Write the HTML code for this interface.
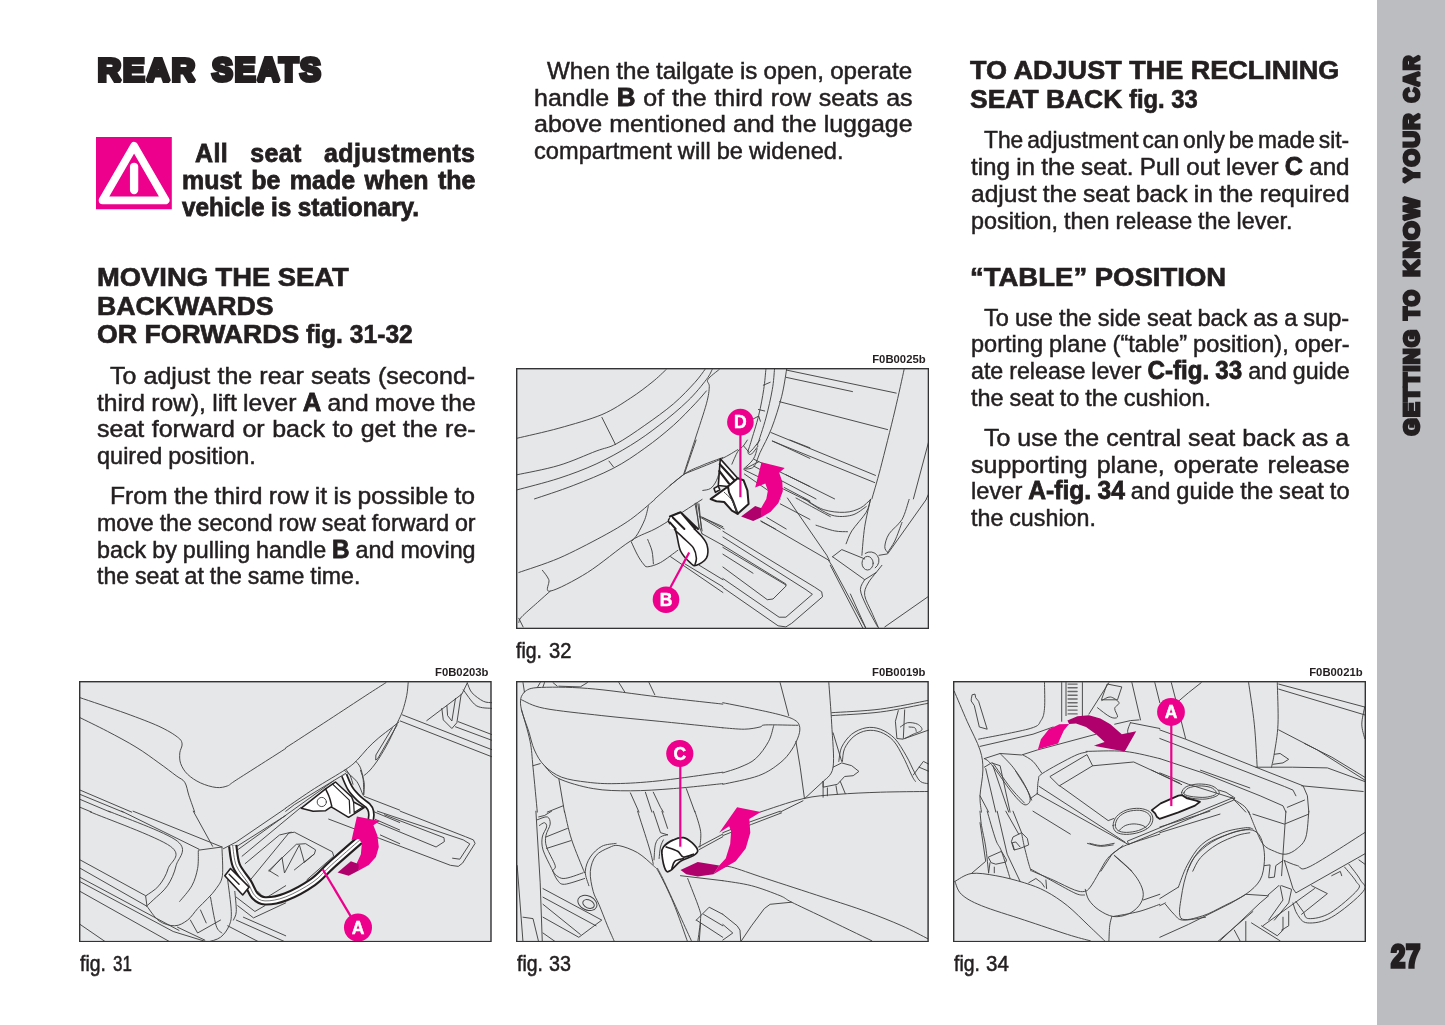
<!DOCTYPE html>
<html><head><meta charset="utf-8"><title>Rear seats</title>
<style>
html,body{margin:0;padding:0;background:#fff;}
body{width:1445px;height:1025px;position:relative;overflow:hidden;font-family:"Liberation Sans",sans-serif;color:#231f20;}
.t{position:absolute;white-space:nowrap;line-height:30px;height:30px;transform-origin:0 0;}
.r{font-size:24.5px;-webkit-text-stroke:0.5px #231f20;}
.r b{font-size:25.5px;line-height:0;-webkit-text-stroke:0.8px #231f20;}
.b{font-size:26.0px;font-weight:bold;-webkit-text-stroke:0.8px #231f20;}
.h{font-size:25.7px;font-weight:bold;-webkit-text-stroke:0.65px #231f20;}
.fig{position:absolute;display:block;}
.code{position:absolute;width:120px;text-align:right;font-size:11.3px;font-weight:bold;line-height:30px;height:30px;white-space:nowrap;}
.cap{position:absolute;font-size:24px;line-height:30px;height:30px;white-space:nowrap;transform:scaleX(0.83);transform-origin:0 0;-webkit-text-stroke:0.4px #231f20;}
.side{position:absolute;left:1377px;top:0;width:68px;height:1025px;background:#bbbdc1;}
.abs{position:absolute;}
#pg{position:absolute;left:0;top:0;width:1445px;height:1025px;will-change:transform;}
</style></head><body>
<div class="side"></div>
<div id="pg">
<svg class="abs" style="left:0;top:0" width="400" height="120" viewBox="0 0 400 120"><g transform="translate(97.80,81.00) scale(1.0113,1.0000)"><text x="0" y="0" font-family="Liberation Sans, sans-serif" font-weight="bold" font-size="32.0" letter-spacing="1.9" fill="#231f20" stroke="#231f20" stroke-width="4.0" stroke-linejoin="miter" stroke-miterlimit="1.6">REAR</text></g><g transform="translate(212.07,81.34) scale(0.9711,1.0308)"><text x="0" y="0" font-family="Liberation Sans, sans-serif" font-weight="bold" font-size="32.0" letter-spacing="1.9" fill="#231f20" stroke="#231f20" stroke-width="4.0" stroke-linejoin="miter" stroke-miterlimit="1.6">SEATS</text></g></svg>
<svg class="abs" style="left:96.1px;top:137.3px" width="75.8" height="72.3" viewBox="0 0 75.8 72.3">
<rect width="75.8" height="72.3" fill="#ec008c"/>
<path d="M38.1 8.9 L69.6 63.3 L6.6 63.3 Z" fill="none" stroke="#fff" stroke-width="7.8" stroke-linejoin="round"/>
<line x1="38.1" y1="29.8" x2="38.1" y2="53" stroke="#fff" stroke-width="8.3" stroke-linecap="round"/>
</svg>

<div class="t b" style="left:195.4px;top:138.39px;transform:scaleX(0.9600);word-spacing:15.52px;letter-spacing:0.408px;">All seat adjustments</div>
<div class="t b" style="left:182.0px;top:165.19px;transform:scaleX(0.9600);word-spacing:2.72px;">must be made when the</div>
<div class="t b" style="left:182.0px;top:191.99px;transform:scaleX(0.9362);word-spacing:-0.30px;">vehicle is stationary.</div>
<div class="t h" style="left:96.5px;top:261.89px;transform:scaleX(1.0650);">MOVING THE SEAT</div>
<div class="t h" style="left:96.5px;top:290.69px;transform:scaleX(1.0399);">BACKWARDS</div>
<div class="t h" style="left:96.5px;top:319.49px;transform:scaleX(1.0377);">OR FORWARDS</div>
<div class="t h" style="left:306.3px;top:319.49px;transform:scaleX(0.9591);">fig. 31-32</div>
<div class="t r" style="left:110.3px;top:360.81px;transform:scaleX(1.0200);word-spacing:0.23px;">To adjust the rear seats (second-</div>
<div class="t r" style="left:96.8px;top:387.61px;transform:scaleX(1.0057);word-spacing:-0.60px;">third row), lift lever <b>A</b> and move the</div>
<div class="t r" style="left:96.8px;top:414.41px;transform:scaleX(1.0200);word-spacing:0.50px;">seat forward or back to get the re-</div>
<div class="t r" style="left:96.8px;top:441.21px;transform:scaleX(0.9591);word-spacing:-0.60px;">quired position.</div>
<div class="t r" style="left:110.3px;top:481.01px;transform:scaleX(1.0083);word-spacing:-0.60px;">From the third row it is possible to</div>
<div class="t r" style="left:96.8px;top:507.81px;transform:scaleX(0.9477);word-spacing:-0.60px;">move the second row seat forward or</div>
<div class="t r" style="left:96.8px;top:534.61px;transform:scaleX(0.9523);word-spacing:-0.60px;">back by pulling handle <b>B</b> and moving</div>
<div class="t r" style="left:96.8px;top:561.41px;transform:scaleX(0.9444);word-spacing:-0.60px;">the seat at the same time.</div>
<div class="t r" style="left:547.1px;top:55.81px;transform:scaleX(0.9862);word-spacing:-0.60px;">When the tailgate is open, operate</div>
<div class="t r" style="left:533.6px;top:82.61px;transform:scaleX(1.0200);word-spacing:0.78px;">handle <b>B</b> of the third row seats as</div>
<div class="t r" style="left:533.6px;top:109.41px;transform:scaleX(1.0200);word-spacing:0.16px;">above mentioned and the luggage</div>
<div class="t r" style="left:533.6px;top:136.21px;transform:scaleX(0.9643);word-spacing:-0.60px;">compartment will be widened.</div>
<div class="t h" style="left:970.0px;top:55.29px;transform:scaleX(1.0521);">TO ADJUST THE RECLINING</div>
<div class="t h" style="left:970.0px;top:84.39px;transform:scaleX(1.0294);">SEAT BACK</div>
<div class="t h" style="left:1129.4px;top:84.39px;transform:scaleX(0.9268);">fig. 33</div>
<div class="t r" style="left:984.0px;top:125.31px;transform:scaleX(0.9300);word-spacing:-2.60px;letter-spacing:-0.010px;">The adjustment can only be made sit-</div>
<div class="t r" style="left:970.5px;top:152.11px;transform:scaleX(0.9892);word-spacing:-0.60px;">ting in the seat. Pull out lever <b>C</b> and</div>
<div class="t r" style="left:970.5px;top:178.91px;transform:scaleX(1.0022);word-spacing:-0.60px;">adjust the seat back in the required</div>
<div class="t r" style="left:970.5px;top:205.71px;transform:scaleX(0.9544);word-spacing:-0.60px;">position, then release the lever.</div>
<div class="t h" style="left:970.0px;top:261.99px;transform:scaleX(1.0707);">“TABLE” POSITION</div>
<div class="t r" style="left:984.0px;top:302.51px;transform:scaleX(0.9627);word-spacing:-0.60px;">To use the side seat back as a sup-</div>
<div class="t r" style="left:970.5px;top:329.31px;transform:scaleX(0.9612);word-spacing:-0.60px;">porting plane (“table” position), oper-</div>
<div class="t r" style="left:970.5px;top:356.11px;transform:scaleX(0.9480);word-spacing:-0.60px;">ate release lever <b>C-fig. 33</b> and guide</div>
<div class="t r" style="left:970.5px;top:382.91px;transform:scaleX(0.9568);word-spacing:-0.60px;">the seat to the cushion.</div>
<div class="t r" style="left:984.0px;top:422.81px;transform:scaleX(1.0200);word-spacing:-0.04px;">To use the central seat back as a</div>
<div class="t r" style="left:970.5px;top:449.61px;transform:scaleX(1.0200);word-spacing:2.04px;">supporting plane, operate release</div>
<div class="t r" style="left:970.5px;top:476.41px;transform:scaleX(0.9658);word-spacing:-0.60px;">lever <b>A-fig. 34</b> and guide the seat to</div>
<div class="t r" style="left:970.5px;top:503.21px;transform:scaleX(0.9496);word-spacing:-0.60px;">the cushion.</div>
<svg class="fig" style="left:79.3px;top:680.8px" width="412.7" height="261.3" viewBox="0 0 412.7 261.3"><rect x="0" y="0" width="412.7" height="261.3" fill="#e6e7e8"/><g fill="none" stroke="#434345" stroke-width="0.95" stroke-linecap="round" stroke-linejoin="round"><path d="M1.1 16.7 C8.8 19.3 33.8 27.7 47.0 32.4 C60.1 37.2 71.3 41.4 79.9 45.3 C88.5 49.3 94.7 53.1 98.5 56.1 C102.4 59.0 102.7 60.3 103.1 62.9 C103.5 65.6 101.1 68.6 100.8 71.8 C100.6 75.1 100.4 79.0 101.7 82.6 C103.0 86.2 105.3 90.1 108.6 93.3 C111.9 96.5 116.7 99.7 121.5 101.9 C126.2 104.1 132.7 106.0 137.2 106.5 C141.8 107.0 145.3 106.0 148.7 104.8 C152.0 103.5 147.6 105.3 157.3 99.0 C166.9 92.8 198.5 72.8 206.7 67.5"/>
<path d="M1.1 36.7 C5.7 39.0 19.0 45.4 28.4 50.3 C37.7 55.2 48.4 60.8 57.0 66.1 C65.6 71.3 73.2 77.1 79.9 81.9 C86.6 86.6 92.8 91.5 97.1 94.7 C101.4 98.0 103.6 97.9 105.7 101.2 C107.9 104.5 108.3 109.8 110.0 114.8 C111.7 119.8 114.8 128.4 115.7 131.1"/>
<path d="M1.1 109.1 L52.7 131.1 M1.1 113.4 L44.1 131.1 M1.1 118.4 L31.2 131.1 M1.1 126.3 L12.6 131.1"/>
<path d="M206.7 66.8 C213.9 62.2 236.3 47.6 249.7 38.9 C263.0 30.2 277.4 20.7 286.9 14.5 C296.5 8.3 303.6 3.8 307.0 1.6"/>
<path d="M329.2 1.6 C328.9 3.8 328.7 9.8 327.7 14.5 C326.8 19.3 325.0 25.7 323.5 30.3 C321.9 34.8 320.7 36.7 318.4 41.7 C316.2 46.8 312.9 54.4 309.8 60.4 C306.7 66.3 302.9 72.8 299.8 77.6 C296.7 82.3 293.7 86.2 291.2 89.0 C288.7 91.9 285.8 93.8 284.8 94.7"/>
<path d="M206.7 127.0 C211.5 123.8 225.3 114.1 235.4 107.6 C245.4 101.2 259.7 93.1 266.9 88.3 C274.0 83.5 274.7 82.5 278.3 79.0 C281.9 75.5 284.8 71.2 288.4 67.5 C291.9 63.8 295.8 60.2 299.8 56.8 C303.9 53.3 309.4 49.4 312.7 46.8 C316.0 44.1 318.7 42.0 319.9 41.0"/>
<path d="M206.7 130.3 L215.3 123.7 L266.9 92.2"/>
<path d="M313.4 46.8 L296.9 74.0 L296.7 79.0 L298.7 77.6 L318.2 43.9"/>
<path d="M276.9 80.4 C277.6 81.4 280.0 83.3 281.2 86.2 C282.4 89.0 283.5 93.1 284.1 97.6 C284.7 102.1 284.7 110.7 284.8 113.4"/>
<path d="M266.9 88.3 C267.6 89.4 270.0 92.2 271.2 94.7 C272.4 97.3 273.6 101.9 274.0 103.3"/>
<path d="M323.5 33.9 L413.7 69.0 M321.3 40.0 L413.7 76.1 M379.3 40.7 L413.7 53.9 M376.5 45.8 L413.7 59.6"/>
<path d="M347.8 39.6 L382.9 13.1 L388.3 1.9"/>
<path d="M362.8 27.4 L364.3 38.9 L372.9 47.5 L377.9 41.7 L382.2 13.1"/>
<path d="M367.9 24.6 L368.6 34.6 L372.9 40.0 L376.5 17.4"/>
<path d="M388.3 1.9 C389.1 3.5 390.3 8.6 392.9 11.7 C395.6 14.7 401.0 18.6 404.4 20.3 C407.7 21.9 411.6 21.4 413.0 21.7"/>
<path d="M384.3 8.8 C386.5 11.4 392.5 21.4 397.2 24.6 C402.0 27.7 410.4 26.9 413.0 27.4"/>
<path d="M11.2 130.9 C24.5 136.6 78.4 155.9 91.4 165.3 C104.4 174.7 91.1 180.9 89.2 187.5 C87.3 194.1 83.6 200.2 79.9 204.7 C76.2 209.2 69.2 213.0 67.0 214.7"/>
<path d="M29.8 130.2 C41.2 135.2 87.3 151.2 98.5 160.3 C109.8 169.4 98.8 177.2 97.1 184.6 C95.4 192.0 92.3 199.0 88.5 204.7 C84.7 210.4 77.7 215.6 74.2 219.0 C70.7 222.4 68.8 224.0 67.7 225.0"/>
<path d="M1.1 178.9 L66.6 214.7 L68.0 225.3 L1.1 187.2 M42.7 130.2 L120.0 168.2 M54.1 130.2 L143.0 166.0 M1.1 196.4 L100.0 249.4 M1.1 200.7 L94.2 250.5 L128.6 261.1 M1.1 210.4 L91.4 261.1 M1.1 243.4 L26.9 261.1"/>
<path d="M119.3 169.2 L143.0 166.0"/>
<path d="M119.3 170.3 C119.2 173.2 119.7 181.8 118.6 187.5 C117.5 193.2 115.9 199.2 112.9 204.7 C109.9 210.2 102.7 217.8 100.7 220.4"/>
<path d="M143.0 166.7 C143.0 171.4 144.3 187.9 143.4 194.7 C142.4 201.5 139.7 203.7 137.2 207.6 C134.8 211.4 131.7 214.2 128.6 217.6 C125.5 220.9 121.9 224.0 118.6 227.6 C115.3 231.2 112.4 236.2 108.6 239.1 C104.8 241.9 100.5 244.7 95.7 244.8 C90.9 244.9 84.5 243.0 79.9 239.8 C75.3 236.5 70.0 227.7 68.0 225.3"/>
<path d="M114.3 130.2 L133.6 165.3"/>
<path d="M131.5 216.2 C132.4 220.9 135.3 238.8 137.2 244.8 C139.1 250.8 142.0 250.8 143.0 252.0"/>
<path d="M148.7 199.0 C149.3 204.2 152.0 222.8 152.3 230.5 C152.5 238.1 151.9 240.5 150.1 244.8 C148.3 249.1 145.1 253.5 141.5 256.3 C137.9 259.0 130.8 260.3 128.6 261.1"/>
<path d="M155.8 210.4 C156.1 213.8 157.5 225.7 157.3 230.5 C157.0 235.3 154.9 237.6 154.4 239.1"/>
<path d="M111.4 239.1 L118.6 252.0 L141.5 239.1 M121.5 229.0 L127.2 241.9 M98.5 246.2 L125.8 259.1"/>
<path d="M148.7 244.8 L180.2 261.1 M157.3 239.1 L206.7 261.1 M164.4 236.2 L206.7 254.8"/>
<path d="M144.4 167.7 L157.3 161.0 L206.7 127.3 M158.0 165.3 L206.7 134.5"/>
<path d="M178.8 210.4 L185.9 217.6 L206.7 204.7 M157.3 216.2 L175.9 230.5 L185.9 224.7 M158.7 224.7 L174.5 236.9 L206.7 221.9"/>
<path d="M159.4 168.3 L254.7 99.8 M163.1 175.2 L221.7 126.6 M166.2 182.6 L200.5 154.0 L212.3 151.2"/>
<path d="M169.4 201.3 L209.8 152.1 L215.4 151.2 L253.4 170.8 L254.7 175.2 L227.9 198.8"/>
<path d="M189.9 189.5 L217.3 163.3 L226.7 162.7 L236.6 168.9 L235.4 172.9 L215.4 188.9"/>
<path d="M190.5 190.1 L203.0 176.4 L205.5 192.0 L220.4 163.9 L225.4 181.4 L235.4 172.9 M189.9 189.5 L199.2 195.1"/>
<path d="M285.2 115.4 L320.7 129.1 M293.9 130.3 L320.7 141.5 M296.4 138.4 L320.7 149.0 M301.4 154.0 L320.7 162.7"/>
<path d="M265.3 89.2 C267.3 91.1 274.6 96.3 277.7 100.4 C280.8 104.6 282.9 111.8 284.0 114.1"/>
<path d="M281.5 89.2 C282.1 91.3 284.7 97.5 285.2 101.7 C285.7 105.8 284.7 112.0 284.6 114.1"/>
<path d="M222.3 127.2 L234.1 130.3 L246.6 129.7 L252.2 125.9 L269.6 136.3 L285.2 126.6 L274.6 121.0 L272.7 116.0 L256.5 101.0 L246.6 107.9 Z" fill="#fff" stroke="#231f20" stroke-width="1.5"/>
<path d="M246.6 107.9 C247.2 109.2 249.3 113.1 250.3 116.0 C251.4 118.9 252.4 123.8 252.8 125.3" stroke="#231f20" stroke-width="1.5"/>
<path d="M253.4 102.9 L270.3 119.1 L270.9 132.2" stroke="#231f20" stroke-width="1.2"/>
<path d="M274.6 121.0 L275.2 131.6 L284.0 125.9" stroke="#231f20" stroke-width="1.2"/>
<circle cx="242.8" cy="121.0" r="4.6" fill="#fff" stroke="#3a3a3c" stroke-width="0.9"/>
<path d="M321.3 130.2 L386.5 155.7 L394.4 158.9 L396.1 162.4 L383.6 182.1 L379.3 185.4 L371.4 184.3 L300.5 157.4 L249.7 138.1"/>
<path d="M298.4 130.2 L384.3 158.9 L390.8 162.9 L380.8 178.2 L373.6 177.2"/>
<path d="M305.5 133.8 L365.0 156.7 L365.4 160.6 L357.1 166.0 L298.4 141.7"/>
<path d="M153.7 164.6 C154.3 167.9 154.8 178.4 157.3 184.6 C159.8 190.8 165.7 196.8 168.8 201.8 C171.9 206.8 173.0 211.7 175.9 214.7 C178.8 217.7 180.9 219.7 186.0 219.9 C191.1 220.1 198.7 219.0 206.7 215.9 C214.7 212.8 226.3 206.4 233.9 201.1 C241.5 195.8 244.7 190.9 252.5 183.9 C260.3 176.9 275.8 163.4 280.5 159.3" stroke="#231f20" stroke-width="9.4" stroke-linecap="butt"/><path d="M280.5 159.3 C281.9 157.6 287.0 152.6 288.9 149.0 C290.8 145.4 291.5 140.9 292.0 137.8 C292.5 134.7 292.5 132.5 292.0 130.3 C291.5 128.1 290.9 126.8 288.9 124.7 C286.9 122.6 283.1 120.6 280.2 117.8 C277.3 115.0 274.0 111.8 271.5 107.9 C269.0 104.0 266.2 96.5 265.2 94.2" stroke="#231f20" stroke-width="6.8" stroke-linecap="butt"/>
<path d="M153.7 164.6 C154.3 167.9 154.8 178.4 157.3 184.6 C159.8 190.8 165.7 196.8 168.8 201.8 C171.9 206.8 173.0 211.7 175.9 214.7 C178.8 217.7 180.9 219.7 186.0 219.9 C191.1 220.1 198.7 219.0 206.7 215.9 C214.7 212.8 226.3 206.4 233.9 201.1 C241.5 195.8 244.7 190.9 252.5 183.9 C260.3 176.9 275.8 163.4 280.5 159.3" stroke="#fff" stroke-width="5.2" stroke-linecap="butt"/><path d="M280.5 159.3 C281.9 157.6 287.0 152.6 288.9 149.0 C290.8 145.4 291.5 140.9 292.0 137.8 C292.5 134.7 292.5 132.5 292.0 130.3 C291.5 128.1 290.9 126.8 288.9 124.7 C286.9 122.6 283.1 120.6 280.2 117.8 C277.3 115.0 274.0 111.8 271.5 107.9 C269.0 104.0 266.2 96.5 265.2 94.2" stroke="#fff" stroke-width="3.4" stroke-linecap="butt"/>
<path d="M153.7 164.6 C154.3 167.9 154.8 178.4 157.3 184.6 C159.8 190.8 165.7 196.8 168.8 201.8 C171.9 206.8 173.0 211.7 175.9 214.7 C178.8 217.7 180.9 219.7 186.0 219.9 C191.1 220.1 198.7 219.0 206.7 215.9 C214.7 212.8 226.3 206.4 233.9 201.1 C241.5 195.8 244.7 190.9 252.5 183.9 C260.3 176.9 275.8 163.4 280.5 159.3" stroke="#3a3a3c" stroke-width="0.7"/>
<path d="M145.8 194.7 L151.5 187.5 L170.2 206.1 L163.7 214.0 Z" fill="#fff" stroke="#231f20" stroke-width="1.6"/>
<path d="M150.1 193.2 L160.1 203.3" stroke="#231f20" stroke-width="1.4"/>
<path d="M277.9 135.6 L300.8 139.9 L294.4 144.2 L298.4 154.6 L299.8 166.0 L296.9 176.0 L289.8 183.9 L279.8 189.6 L277.6 182.5 L281.9 173.2 L282.9 161.7 L280.0 158.1 L272.6 158.9 Z" fill="#ec008c" stroke="none"/>
<path d="M258.6 191.5 L271.9 180.3 L279.5 182.9 L279.8 189.6 L269.7 194.7 Z" fill="#b0006c" stroke="none"/>
<line x1="243.7" y1="188.2" x2="274.0" y2="239.1" stroke="#ec008c" stroke-width="2.2" stroke-linecap="butt"/>
<circle cx="279.0" cy="246.5" r="14.0" fill="#ec008c" stroke="none"/><text x="279.0" y="252.7" text-anchor="middle" font-family="Liberation Sans, sans-serif" font-weight="bold" font-size="17.5" fill="#fff" stroke="#fff" stroke-width="0.5">A</text></g><rect x="0.7" y="0.7" width="411.3" height="259.9" fill="none" stroke="#333335" stroke-width="1.4"/></svg>
<div class="code" style="left:368.4px;top:656.88px">F0B0203b</div>
<svg class="fig" style="left:516.1px;top:368.0px" width="413.1" height="261.1" viewBox="0 0 413.1 261.1"><rect x="0" y="0" width="413.1" height="261.1" fill="#e6e7e8"/><g fill="none" stroke="#434345" stroke-width="0.95" stroke-linecap="round" stroke-linejoin="round"><path d="M1.3 70.2 C8.3 68.5 28.8 64.1 42.9 60.2 C57.0 56.2 73.9 51.6 85.9 46.6 C97.8 41.5 106.1 35.5 114.5 30.1 C122.9 24.7 130.0 19.1 136.0 14.3 C142.0 9.6 147.9 3.6 150.3 1.4"/>
<path d="M1.3 106.7 C8.3 105.2 29.7 101.4 42.9 97.4 C56.0 93.5 70.6 86.7 80.1 83.1 C89.7 79.5 92.1 80.2 100.2 75.9 C108.3 71.6 119.3 64.0 128.8 57.3 C138.4 50.6 149.1 43.0 157.5 35.8 C165.8 28.7 173.7 20.1 179.0 14.3 C184.2 8.6 187.3 3.6 189.0 1.4"/>
<path d="M1.3 121.8 C8.3 119.9 29.7 114.6 42.9 110.3 C56.0 106.0 68.2 101.5 80.1 96.0 C92.1 90.5 104.0 83.8 114.5 77.4 C125.0 70.9 133.6 64.7 143.2 57.3 C152.7 49.9 163.9 40.6 171.8 32.9 C179.7 25.3 186.4 16.7 190.4 11.5 C194.5 6.2 195.2 3.1 196.2 1.4"/>
<path d="M18.5 130.9 C25.0 128.7 44.1 122.6 57.2 117.5 C70.3 112.4 85.4 106.5 97.3 100.3 C109.2 94.1 118.8 87.4 128.8 80.2 C138.9 73.1 149.1 64.7 157.5 57.3 C165.8 49.9 173.5 41.5 179.0 35.8 C184.5 30.1 188.5 25.1 190.4 22.9"/>
<path d="M85.9 49.4 L99.5 76.6 M93.0 93.1 L97.6 99.1"/>
<path d="M203.3 1.4 C201.4 3.1 193.5 8.6 191.9 11.5 C190.2 14.3 193.5 14.6 193.3 18.6 C193.1 22.7 192.8 27.0 190.4 35.8 C188.0 44.6 182.8 59.8 179.0 71.6 C175.1 83.4 169.4 100.9 167.5 106.7"/>
<path d="M138.9 130.9 C143.6 126.9 159.6 112.3 167.5 106.7 C175.4 101.1 179.6 100.3 186.1 97.4 C192.7 94.5 203.4 90.8 206.9 89.5"/>
<path d="M249.9 1.4 C249.5 4.8 248.9 13.8 247.7 21.5 C246.5 29.1 244.9 38.4 242.7 47.3 C240.6 56.1 236.6 68.3 234.8 74.5 C233.0 80.7 231.8 82.6 232.0 84.5 C232.1 86.4 233.9 87.0 235.6 86.0 C237.2 84.9 240.9 79.4 242.0 78.1"/>
<path d="M258.5 1.4 C258.1 4.8 257.8 13.4 256.3 21.5 C254.9 29.6 252.4 40.8 249.9 50.1 C247.4 59.4 242.7 72.8 241.3 77.4"/>
<path d="M270.6 1.4 C269.8 6.0 268.1 18.9 265.6 28.7 C263.1 38.4 259.2 50.9 255.6 60.2 C252.0 69.5 247.1 78.1 244.1 84.5 C241.2 91.0 240.3 96.1 237.7 98.8 C235.1 101.6 229.9 100.6 228.4 101.0"/>
<path d="M247.3 17.2 L254.2 14.3 M242.4 41.5 L248.7 43.0 M237.3 50.9 L242.7 48.0 L244.4 53.3"/>
<path d="M270.6 2.1 L380.2 25.1 M269.9 9.3 L336.5 23.6 M263.5 33.7 L371.6 61.6 M254.9 64.5 L359.5 107.4 M256.3 73.1 L358.7 114.6"/>
<path d="M388.1 1.4 C386.6 8.4 382.7 26.5 378.8 43.0 C374.9 59.4 368.3 85.6 364.5 100.3 C360.7 114.9 357.3 125.8 355.9 130.9"/>
<path d="M413.2 71.6 L397.4 130.9 M413.9 123.2 L410.3 130.9"/>
<path d="M229.8 100.3 L242.7 93.8 M237.7 98.1 L300.0 130.9 M228.4 106.0 L264.2 130.9 M269.9 106.7 L318.6 130.9"/>
<path d="M206.9 163.2 L298.6 219.1 L305.7 223.8 L306.5 228.8 L275.7 255.3 L269.9 258.9 L262.1 257.8 L206.9 219.5"/>
<path d="M206.9 169.0 L290.0 221.7 L296.4 226.3 L269.9 249.2 L263.1 249.2 L206.9 210.5"/>
<path d="M206.9 177.3 L269.9 216.0 L269.9 218.2 L257.0 231.0 L251.3 231.7 L206.9 199.0"/>
<path d="M206.9 179.4 L269.9 217.0 M206.9 186.2 L237.0 205.2"/>
<path d="M244.9 152.9 L312.2 191.9 L315.8 197.3 L350.2 260.9"/>
<path d="M271.4 130.0 L310.8 187.3 L313.6 193.0"/>
<path d="M314.3 197.3 L347.3 260.9"/>
<path d="M334.4 226.0 L350.2 260.9"/>
<path d="M280.0 130.0 C282.6 131.4 290.0 135.5 295.7 138.6 C301.4 141.7 311.2 147.0 314.3 148.6"/>
<path d="M287.1 130.0 C290.5 131.9 300.3 139.1 307.2 141.5 C314.1 143.8 322.5 144.6 328.7 144.3 C334.9 144.1 340.1 142.2 344.4 140.0 C348.7 137.9 352.8 132.9 354.5 131.4"/>
<path d="M292.9 134.3 C296.7 136.4 308.6 145.0 315.8 147.2 C322.9 149.3 330.1 148.6 335.8 147.2 C341.6 145.8 347.8 140.0 350.2 138.6"/>
<path d="M300.0 157.2 C303.1 158.2 313.4 161.9 318.6 162.9 C323.9 164.0 329.4 163.5 331.5 163.7"/>
<path d="M354.5 131.4 C353.7 133.6 353.3 139.1 350.2 144.3 C347.0 149.6 339.2 157.7 335.8 162.9 C332.5 168.2 331.1 173.7 330.1 175.8"/>
<path d="M354.5 131.4 C353.5 136.0 350.2 149.3 348.7 158.7 C347.3 168.0 346.3 182.5 345.9 187.3"/>
<path d="M316.5 188.7 L325.8 181.6 L348.7 190.9"/>
<path d="M316.5 188.7 L348.7 211.7 L360.2 204.5 L365.9 197.3"/>
<ellipse cx="351.6" cy="195.2" rx="5.6" ry="6.8"/>
<path d="M349.2 185.4 A8 8 0 0 1 359.2 199.9"/>
<path d="M348.7 211.7 C348.0 213.3 344.2 217.4 344.4 221.7 C344.7 226.0 347.3 231.2 350.2 237.4 C353.0 243.6 359.7 255.3 361.6 258.9"/>
<path d="M360.2 204.5 C358.7 206.4 353.5 212.1 351.6 216.0 C349.7 219.8 348.0 222.6 348.7 227.4 C349.4 232.2 353.5 239.0 355.9 244.6 C358.3 250.2 361.9 258.2 363.0 260.9"/>
<path d="M393.1 131.4 C391.9 134.8 389.3 145.8 386.0 151.5 C382.6 157.2 375.9 161.3 373.1 165.8 C370.2 170.3 369.0 175.6 368.8 178.7 C368.5 181.8 371.2 183.5 371.6 184.4"/>
<path d="M410.3 131.4 L371.6 185.9 L363.0 187.3"/>
<path d="M386.0 154.4 C384.8 157.5 381.2 168.0 378.8 173.0 C376.4 178.0 372.8 182.5 371.6 184.4"/>
<path d="M413.9 227.4 L368.8 258.9"/>
<path d="M2.8 204.5 C9.5 202.1 29.0 196.1 42.9 190.2 C56.7 184.2 73.9 175.1 85.9 168.7 C97.8 162.2 105.7 157.7 114.5 151.5 C123.3 145.3 134.8 134.8 138.9 131.4"/>
<path d="M26.4 202.3 C27.5 203.9 31.5 208.2 32.8 211.7 C34.2 215.1 27.8 224.3 34.3 223.1 C40.7 221.9 58.2 212.8 71.5 204.5 C84.9 196.1 102.6 180.6 114.5 173.0 C126.4 165.3 131.2 165.6 143.2 158.7 C155.1 151.7 179.0 136.0 186.1 131.4"/>
<path d="M34.3 223.1 C32.1 225.0 26.2 230.3 21.4 234.6 C16.6 238.9 8.7 245.6 5.6 248.9 C2.5 252.2 3.2 253.7 2.8 254.6"/>
<path d="M2.8 250.3 L7.1 258.9"/>
<path d="M132.4 137.9 C131.8 140.1 130.6 146.8 128.8 151.5 C127.0 156.1 123.8 162.2 121.7 165.8 C119.5 169.4 116.9 171.8 115.9 173.0"/>
<path d="M115.2 173.7 C116.3 176.0 119.6 183.6 121.7 187.3 C123.7 191.0 125.7 194.0 127.4 195.9 C129.1 197.8 128.8 199.0 131.7 198.8 C134.6 198.5 139.6 197.2 144.6 194.5 C149.6 191.7 158.9 184.3 161.8 182.3"/>
<path d="M131.7 171.5 C132.4 173.5 135.0 178.9 136.0 183.0 C136.9 187.1 137.2 193.7 137.4 195.9"/>
<path d="M154.6 188.7 L206.9 224.5 M168.9 195.9 L206.9 218.8 M183.3 197.3 L206.9 211.7 M186.1 165.8 L206.9 177.3 M184.7 148.6 L206.9 158.7 M179.0 135.7 L183.3 158.7 L186.1 165.8 M181.8 135.7 L186.1 162.9"/>
<path d="M256.6 73.0 L293.9 90.4 M274.0 72.0 L293.9 79.8 M238.2 91.4 L293.9 118.5 M228.5 102.0 L293.9 134.0 M268.2 119.5 L293.9 133.0 M264.3 135.9 L293.9 151.4 M250.8 149.5 L270.2 161.0 M245.0 153.4 L259.5 161.0 M183.0 148.5 L204.3 161.0 M186.8 149.5 L208.2 161.0"/>
<path d="M180.1 72.0 L168.4 105.9 L153.9 117.5"/>
<path d="M168.4 105.9 C174.4 103.5 195.4 95.4 204.3 91.4 C213.2 87.3 218.8 83.3 221.7 81.7"/>
<path d="M186.8 122.4 C188.1 122.1 192.3 122.1 194.6 120.4 C196.9 118.8 198.8 115.9 200.4 112.7 C202.0 109.5 203.6 103.0 204.3 101.1"/>
<path d="M180.1 135.0 L183.0 161.0 M183.0 135.9 L185.4 161.0"/>
<path d="M231.4 72.0 L227.5 77.8 L233.3 84.6 L237.2 80.7 L244.0 72.0"/>
<path d="M215.9 96.2 C216.9 94.1 219.8 86.7 221.7 83.6 C223.7 80.6 226.6 78.8 227.5 77.8"/>
<path d="M241.1 80.7 C240.5 82.5 239.5 88.0 237.2 91.4 C235.0 94.8 229.1 99.5 227.5 101.1"/>
<path d="M152.5 152.2 C153.3 149.2 161.4 144.7 164.6 145.0 C167.9 145.4 168.5 150.7 171.8 154.4 C175.1 158.1 181.5 163.4 184.7 167.2 C187.9 171.1 190.2 173.5 191.1 177.3 C192.1 181.1 192.2 186.8 190.4 190.2 C188.6 193.5 183.0 196.5 180.4 197.3 C177.8 198.2 177.3 197.6 174.7 195.2 C172.0 192.8 167.1 188.4 164.6 183.0 C162.1 177.6 161.7 168.1 159.6 162.9 C157.6 157.8 151.6 155.2 152.5 152.2 Z" fill="#fff" stroke="#231f20" stroke-width="1.6"/>
<path d="M159.6 162.9 C160.9 164.1 164.5 167.2 167.5 170.1 C170.5 173.0 175.4 176.8 177.5 180.1 C179.7 183.5 180.2 187.4 180.4 190.2 C180.6 192.9 179.2 195.5 179.0 196.6" stroke="#231f20" stroke-width="1.6"/>
<path d="M153.9 148.5 L164.6 144.2 L182.0 161.0 L153.9 161.0 Z" fill="#fff" stroke="none"/>
<path d="M153.9 148.5 L164.6 144.2 L182.0 161.0 M164.6 144.2 L179.1 161.0 M156.8 149.5 L168.4 161.0 M153.9 154.4 L159.7 161.0" stroke="#231f20" stroke-width="2"/>
<path d="M204.3 90.9 L221.7 110.3 L212.0 118.5 L202.3 117.5 L203.3 104.0 Z" fill="#fff" stroke="#231f20" stroke-width="1.6"/>
<path d="M203.8 96.2 L218.8 112.7 M203.3 103.0 L213.0 115.6" stroke="#231f20" stroke-width="2.2"/>
<path d="M194.6 131.1 L212.0 118.5 L217.4 134.0 L221.7 145.8 L215.9 142.7 L208.2 134.0 L200.4 133.2 Z" fill="#fff" stroke="#231f20" stroke-width="2"/>
<path d="M212.0 118.5 L221.7 110.3 L227.5 112.2 L231.4 122.4 L232.6 135.9 L221.7 145.8 L217.4 134.0 L213.0 124.3 Z" fill="#fff" stroke="#231f20" stroke-width="2"/>
<path d="M198.0 120.4 L202.3 118.0 L203.8 121.9 L199.4 124.3 Z" fill="#fff" stroke="#231f20" stroke-width="1.6"/>
<path d="M208.2 124.3 C209.4 125.6 213.8 128.8 215.9 132.1 C218.0 135.3 219.9 141.8 220.8 143.7"/>
<path d="M245.5 94.3 L268.7 100.1 L263.2 104.7 L266.3 113.7 L266.8 123.3 L262.4 135.0 L254.7 143.7 L245.9 149.0 L245.0 140.3 L250.3 131.1 L251.9 122.4 L249.3 115.6 L239.2 119.5 Z" fill="#ec008c" stroke="none"/>
<path d="M225.1 148.5 L239.2 137.9 L245.5 140.3 L245.9 149.0 L237.2 152.9 Z" fill="#b0006c" stroke="none"/>
<line x1="224.4" y1="54.4" x2="224.4" y2="129.2" stroke="#ec008c" stroke-width="2.2" stroke-linecap="butt"/>
<circle cx="224.4" cy="54.1" r="13.3" fill="#ec008c" stroke="none"/><text x="224.4" y="60.4" text-anchor="middle" font-family="Liberation Sans, sans-serif" font-weight="bold" font-size="17.5" fill="#fff" stroke="#fff" stroke-width="0.5">D</text>
<line x1="173.2" y1="184.4" x2="151.7" y2="224.5" stroke="#ec008c" stroke-width="2.2" stroke-linecap="butt"/>
<circle cx="150.0" cy="231.7" r="13.3" fill="#ec008c" stroke="none"/><text x="150.0" y="237.9" text-anchor="middle" font-family="Liberation Sans, sans-serif" font-weight="bold" font-size="17.5" fill="#fff" stroke="#fff" stroke-width="0.5">B</text></g><rect x="0.7" y="0.7" width="411.7" height="259.7" fill="none" stroke="#333335" stroke-width="1.4"/></svg>
<div class="code" style="left:805.6px;top:344.08px">F0B0025b</div>
<svg class="fig" style="left:516.2px;top:680.8px" width="412.8" height="261.3" viewBox="0 0 412.8 261.3"><rect x="0" y="0" width="412.8" height="261.3" fill="#e6e7e8"/><g fill="none" stroke="#434345" stroke-width="0.95" stroke-linecap="round" stroke-linejoin="round"><path d="M8.4 10.9 C10.5 10.2 10.8 7.2 21.3 6.6 C31.8 6.0 51.1 5.8 71.4 7.4 C91.7 8.9 120.5 13.3 143.1 16.0 C165.6 18.6 196.2 21.9 206.8 23.1"/>
<path d="M5.5 18.8 C9.4 20.3 15.1 24.8 28.5 27.4 C41.8 30.0 66.7 32.4 85.8 34.6 C104.9 36.7 122.9 38.3 143.1 40.3 C163.2 42.3 196.2 45.7 206.8 46.8"/>
<path d="M8.4 10.9 C7.8 12.0 5.3 14.4 4.8 17.4 C4.3 20.4 4.2 23.4 5.5 28.9 C6.8 34.3 10.5 43.7 12.7 50.3 C14.8 57.0 15.8 63.2 18.4 69.0 C21.0 74.7 23.9 80.2 28.5 84.7 C33.0 89.3 38.5 93.4 45.6 96.2 C52.8 98.9 62.4 100.1 71.4 101.2 C80.5 102.3 88.1 102.9 100.1 102.6 C112.0 102.4 125.3 101.7 143.1 99.8 C160.8 97.9 196.2 92.6 206.8 91.2"/>
<path d="M28.5 84.7 C30.8 86.9 34.7 93.8 42.8 97.6 C50.9 101.4 65.2 105.6 77.2 107.6 C89.1 109.7 101.0 109.8 114.4 109.8 C127.8 109.8 142.0 108.8 157.4 107.6 C172.8 106.4 198.6 103.5 206.8 102.6"/>
<path d="M7.0 1.6 L8.4 10.9 M24.2 1.6 L21.3 6.6 M28.5 1.6 L27.0 5.9 M37.0 1.6 L41.3 5.2 M71.4 1.6 L64.3 5.9 L42.8 5.2 M102.9 1.6 L108.7 10.9 M133.0 1.6 L138.8 13.8"/>
<path d="M5.5 28.9 C7.0 34.1 12.2 50.8 14.1 60.4 C16.0 69.9 15.8 74.4 17.0 86.2 C18.2 97.9 20.6 123.6 21.3 131.1"/>
<path d="M17.0 84.7 L24.2 82.6 M42.8 97.6 L48.5 131.1 M31.3 131.1 L47.1 124.8 M114.4 111.9 L123.0 131.1 M129.4 111.2 L135.9 131.1 M137.3 111.2 L144.5 126.3 L147.4 131.1 M170.3 107.6 L178.9 131.1"/>
<path d="M206.8 21.7 C212.8 22.9 232.6 26.7 242.6 28.9 C252.6 31.0 261.0 32.9 267.0 34.6 C272.9 36.3 275.7 37.2 278.4 38.9 C281.2 40.5 282.7 42.0 283.4 44.6 C284.2 47.2 284.0 50.6 282.7 54.6 C281.4 58.7 278.7 64.4 275.6 69.0 C272.5 73.5 269.6 77.6 264.1 81.9 C258.6 86.2 252.2 91.2 242.6 94.7 C233.1 98.3 212.8 101.9 206.8 103.3"/>
<path d="M206.8 46.8 C210.4 47.0 222.1 48.3 228.3 48.2 C234.5 48.1 240.5 46.8 244.0 46.0 C247.6 45.3 243.4 44.2 249.8 43.9 C256.1 43.6 276.6 44.3 282.0 44.3"/>
<path d="M257.7 44.6 C256.8 47.2 255.6 54.9 252.6 60.4 C249.7 65.9 244.5 73.3 239.7 77.6 C235.0 81.9 229.5 83.8 224.0 86.2 C218.5 88.5 209.7 90.9 206.8 91.9"/>
<path d="M279.9 60.4 L284.2 86.2 L288.5 117.7 L307.1 100.5"/>
<path d="M264.1 1.6 L272.7 34.6"/>
<path d="M312.8 1.6 C313.3 8.6 315.0 29.1 315.7 43.2 C316.4 57.3 318.5 76.6 317.1 86.2 C315.7 95.7 308.7 98.1 307.1 100.5"/>
<path d="M315.7 31.7 C323.8 31.1 348.4 30.2 364.4 28.1 C380.4 26.1 403.8 21.0 411.7 19.5"/>
<path d="M315.7 34.6 C323.8 34.0 348.4 33.0 364.4 31.0 C380.4 29.0 403.8 23.8 411.7 22.4"/>
<path d="M322.8 80.4 C323.3 78.0 323.6 70.6 325.7 66.1 C327.8 61.6 331.7 56.4 335.7 53.2 C339.8 50.0 345.3 47.6 350.1 46.8 C354.8 45.9 359.6 46.4 364.4 48.2 C369.2 50.0 374.4 53.1 378.7 57.5 C383.0 61.9 386.8 69.0 390.2 74.7 C393.5 80.4 396.4 87.6 398.8 91.9 C401.1 96.2 402.3 98.7 404.5 100.5 C406.6 102.3 410.5 102.3 411.7 102.6"/>
<path d="M326.4 80.4 C326.8 78.3 326.7 71.7 328.6 67.5 C330.5 63.4 334.2 58.3 337.9 55.4 C341.6 52.4 346.4 50.3 350.8 49.6 C355.2 48.9 360.0 49.4 364.4 51.1 C368.8 52.7 373.5 55.5 377.3 59.6 C381.1 63.8 384.2 70.3 387.3 76.1 C390.4 82.0 393.9 90.7 395.9 94.7 C397.9 98.8 398.9 99.5 399.5 100.5"/>
<path d="M317.1 86.2 L325.7 81.9 L335.7 84.7 L342.9 90.4 L337.2 94.7 L328.6 95.5 L321.4 103.3 L307.1 106.2 L307.1 100.5"/>
<path d="M307.1 100.5 L307.1 116.2 M311.4 106.9 L311.4 114.8 M320.0 104.8 L321.4 113.4 M324.3 100.5 L329.3 112.7 M317.1 51.8 L325.7 80.4"/>
<path d="M382.3 29.6 L379.4 40.3 L380.9 57.5 L387.3 58.2 L388.7 28.9"/>
<path d="M384.4 46.0 C385.6 45.3 388.7 42.2 391.6 41.7 C394.5 41.3 399.2 42.0 401.6 43.2 C404.0 44.4 406.6 47.2 405.9 48.9 C405.2 50.6 400.2 51.8 397.3 53.2 C394.5 54.6 390.2 56.8 388.7 57.5"/>
<path d="M393.0 46.0 C394.0 46.2 397.6 46.0 398.8 46.8 C400.0 47.5 400.0 49.7 400.2 50.3"/>
<path d="M388.7 57.5 L413.1 48.9 M397.3 94.0 L407.4 80.4 L413.1 83.3 M403.1 86.2 L413.1 90.4"/>
<path d="M244.0 131.1 C251.2 128.9 274.1 120.6 287.0 117.7 C299.9 114.7 308.5 114.4 321.4 113.4 C334.3 112.3 349.3 111.7 364.4 111.2 C379.4 110.7 403.8 110.6 411.7 110.5"/>
<path d="M264.1 131.1 L287.0 119.8"/>
<path d="M98.6 261.1 C97.5 258.4 94.1 251.1 91.5 244.8 C88.9 238.5 85.3 229.0 82.9 223.3 C80.5 217.6 78.6 215.9 77.2 210.4 C75.7 204.9 73.8 196.3 74.3 190.4 C74.8 184.4 76.9 178.5 80.0 174.6 C83.1 170.7 89.1 168.4 92.9 166.7 C96.7 165.1 98.2 163.7 102.9 164.6 C107.7 165.4 115.8 168.4 121.6 171.7 C127.3 175.1 133.7 181.3 137.3 184.6 C140.9 188.0 139.7 185.6 143.1 191.8 C146.4 198.0 152.6 210.3 157.4 221.9 C162.2 233.4 169.3 254.6 171.7 261.1"/>
<path d="M72.9 204.7 C72.3 202.3 69.0 195.1 69.3 190.4 C69.5 185.6 71.5 180.2 74.3 176.0 C77.0 171.9 81.5 167.6 85.8 165.3 C90.0 163.0 97.7 162.9 100.1 162.4"/>
<path d="M141.6 187.5 C143.1 190.4 144.5 192.4 150.2 204.7 C155.9 217.0 171.7 251.7 176.0 261.1"/>
<path d="M138.0 178.9 C138.3 176.3 138.4 167.0 139.5 163.1 C140.5 159.3 142.5 157.5 144.5 156.0 C146.5 154.4 150.5 154.2 151.6 153.8"/>
<path d="M143.1 177.5 C143.3 175.6 143.8 169.1 144.5 166.0 C145.2 162.9 146.9 160.0 147.4 158.9"/>
<path d="M121.6 130.2 C123.5 136.2 130.4 157.2 133.0 166.0 C135.7 174.8 136.6 180.3 137.3 183.2"/>
<path d="M137.3 130.2 L144.5 151.7 L151.6 153.8 M145.9 130.2 L151.6 147.4"/>
<path d="M178.9 130.2 C179.8 133.5 183.8 144.3 184.6 150.3 C185.4 156.2 184.0 163.4 183.9 166.0"/>
<path d="M182.4 166.0 L206.8 153.1 M183.2 168.6 L206.8 155.7 M164.5 194.7 L206.8 199.7"/>
<path d="M171.7 197.5 C173.6 202.5 181.0 220.9 183.2 227.6 C185.3 234.3 184.8 232.1 184.6 237.6 C184.4 243.2 182.2 257.2 181.7 261.1"/>
<path d="M180.3 239.1 L193.2 226.2 L206.8 233.3 M184.6 241.9 L206.8 256.3 M180.3 239.1 L184.6 241.9 L183.2 261.1 M187.5 233.3 L206.8 244.8"/>
<path d="M1.2 184.6 L7.0 261.1 M19.9 130.2 L24.2 201.8 L26.3 261.1 M22.7 135.9 L28.5 134.5 L35.6 130.2 M29.9 156.0 L51.4 147.4 M30.6 167.4 L55.0 159.6"/>
<path d="M21.3 138.8 C23.0 138.3 29.2 135.2 31.3 135.9 C33.5 136.6 34.4 140.0 34.2 143.1 C33.9 146.2 30.5 150.7 29.9 154.6 C29.3 158.4 29.0 161.0 30.6 166.0 C32.2 171.0 38.1 180.6 39.2 184.6 C40.3 188.7 35.7 188.2 37.0 190.4 C38.4 192.5 42.1 197.3 47.1 197.5 C52.1 197.8 63.8 192.8 67.1 191.8"/>
<path d="M23.4 144.5 C24.3 144.0 27.3 141.4 28.5 141.7 C29.6 141.9 31.0 143.6 30.6 146.0 C30.2 148.3 26.9 152.2 26.3 156.0 C25.7 159.8 25.5 163.6 27.0 168.9 C28.6 174.1 33.2 182.5 35.6 187.5 C38.0 192.5 39.2 196.3 41.3 199.0 C43.5 201.6 44.0 203.5 48.5 203.3 C53.0 203.0 65.2 198.5 68.6 197.5"/>
<path d="M48.5 130.2 C49.7 135.0 52.3 148.6 55.7 158.9 C59.0 169.1 66.4 186.3 68.6 191.8"/>
<path d="M27.0 207.6 L85.8 239.1 L62.8 256.3 L27.0 236.2 M27.0 216.2 L80.0 244.8 M27.0 223.3 L64.3 253.4 M27.0 252.0 L39.9 261.1 M7.0 236.2 L17.0 237.6 L22.7 261.1"/>
<ellipse cx="71.4" cy="221.9" rx="10" ry="7" transform="rotate(25 71.4 221.9)"/><ellipse cx="72.9" cy="222.4" rx="6" ry="4" transform="rotate(25 71.4 221.9)"/>
<path d="M206.8 151.7 L234.0 140.9 L264.1 130.2 M206.8 154.6 L235.5 143.4 L265.5 131.9"/>
<path d="M206.8 186.8 C208.2 186.7 208.2 184.3 215.4 186.1 C222.6 187.9 234.5 192.5 249.8 197.5 C265.1 202.5 290.4 210.7 307.1 216.2 C323.8 221.6 336.9 225.7 350.1 230.5 C363.2 235.3 375.6 240.3 385.9 244.8 C396.1 249.3 407.4 255.5 411.7 257.7"/>
<path d="M206.8 199.7 C211.6 200.5 225.9 202.2 235.5 204.7 C245.0 207.2 257.4 212.0 264.1 214.7 C270.8 217.5 268.4 217.6 275.6 221.2 C282.7 224.7 293.7 229.8 307.1 236.2 C320.4 242.7 347.7 255.9 355.8 259.8"/>
<path d="M275.6 221.2 L254.1 223.3 L248.3 227.6 L235.5 244.8 L225.4 259.8"/>
<path d="M206.8 233.3 L221.1 244.8 L224.0 249.1 L224.7 259.8 M206.8 243.4 L216.8 252.0 L206.8 259.1"/>
<path d="M147.4 166.0 C149.3 163.6 154.0 160.4 157.4 158.9 C160.7 157.3 164.3 156.2 167.4 156.7 C170.5 157.2 173.6 159.6 176.0 161.7 C178.4 163.9 181.5 167.4 181.7 169.6 C182.0 171.7 180.3 172.8 177.4 174.6 C174.6 176.4 168.4 177.8 164.5 180.3 C160.7 182.8 157.0 188.2 154.5 189.6 C152.0 191.1 150.9 191.7 149.5 188.9 C148.1 186.2 146.3 177.0 145.9 173.2 C145.6 169.4 145.4 168.4 147.4 166.0 Z" fill="#fff" stroke="#231f20" stroke-width="1.7"/>
<path d="M150.2 166.0 C152.1 166.7 158.8 168.6 161.7 170.3 C164.5 172.0 164.8 175.6 167.4 176.0 C170.0 176.5 175.8 173.7 177.4 173.2" stroke="#231f20" stroke-width="1.7"/>
<path d="M155.9 187.5 C156.4 186.3 156.9 182.0 158.8 180.3 C160.7 178.7 166.0 178.0 167.4 177.5" stroke="#231f20" stroke-width="1.7"/>
<path d="M221.1 126.3 L244.8 130.9 L233.3 138.1 L234.3 151.7 L229.7 167.4 L219.7 180.3 L206.8 187.8 L197.5 193.2 L203.2 184.6 L209.7 177.5 L214.2 163.1 L215.1 150.3 L213.2 145.2 L203.2 151.7 Z" fill="#ec008c" stroke="none"/>
<path d="M164.5 188.9 L181.7 181.1 L203.2 184.6 L197.5 193.2 L181.7 195.4 L170.3 193.2 Z" fill="#b0006c" stroke="none"/>
<line x1="164.3" y1="72.5" x2="164.3" y2="165.7" stroke="#ec008c" stroke-width="2.2" stroke-linecap="butt"/>
<circle cx="163.8" cy="72.5" r="13.6" fill="#ec008c" stroke="none"/><text x="163.8" y="78.8" text-anchor="middle" font-family="Liberation Sans, sans-serif" font-weight="bold" font-size="17.5" fill="#fff" stroke="#fff" stroke-width="0.5">C</text></g><rect x="0.7" y="0.7" width="411.4" height="259.9" fill="none" stroke="#333335" stroke-width="1.4"/></svg>
<div class="code" style="left:805.4px;top:656.88px">F0B0019b</div>
<svg class="fig" style="left:953.2px;top:680.8px" width="413.0" height="261.3" viewBox="0 0 413.0 261.3"><rect x="0" y="0" width="413.0" height="261.3" fill="#e6e7e8"/><g fill="none" stroke="#434345" stroke-width="0.95" stroke-linecap="round" stroke-linejoin="round"><path d="M91.5 1.6 C91.5 5.9 92.1 21.1 91.5 27.4 C90.9 33.7 90.3 36.3 87.9 39.6 C85.5 42.9 87.5 44.4 77.2 47.5 C66.8 50.6 34.2 56.4 25.6 58.2"/>
<path d="M27.0 65.4 L80.0 53.2 L100.1 46.0"/>
<path d="M108.7 1.6 L108.7 40.3 M113.0 1.6 L113.0 34.6 M129.4 1.6 L129.4 34.6"/>
<path d="M115.1 3.1 L124.1 3.1 M115.1 6.8 L124.1 6.8 M115.1 10.5 L124.1 10.5 M115.1 14.2 L124.1 14.2 M115.1 18.0 L124.1 18.0 M115.1 21.7 L124.1 21.7 M115.1 25.4 L124.1 25.4 M115.1 29.1 L124.1 29.1 M115.1 32.9 L124.1 32.9" stroke-width="1.4" stroke="#6a6a6c"/>
<path d="M1.2 10.2 C3.4 15.2 9.8 30.5 14.1 40.3 C18.4 50.1 24.4 60.8 27.0 69.0 C29.6 77.1 29.9 81.4 29.9 89.0 C29.9 96.7 27.3 107.8 27.0 114.8 C26.8 121.8 28.2 128.4 28.5 131.1"/>
<path d="M18.4 17.4 L19.1 13.8 L22.0 13.1 L22.7 16.7 L25.6 20.3 L34.2 48.2 L26.3 46.0 L21.3 24.6 L18.4 20.3 Z"/>
<path d="M31.3 77.6 L47.1 72.5 L68.6 74.0 L84.3 69.0 L143.1 53.2"/>
<path d="M47.1 72.5 C49.2 74.8 55.9 81.0 60.0 86.2 C64.0 91.3 68.6 98.1 71.4 103.3 C74.3 108.6 76.7 114.3 77.2 117.7 C77.6 121.0 75.7 122.7 74.3 123.4 C72.9 124.1 71.4 124.4 68.6 122.0 C65.7 119.6 61.4 114.6 57.1 109.1 C52.8 103.6 46.4 93.8 42.8 89.0 C39.2 84.2 37.5 82.3 35.6 80.4 C33.7 78.5 32.0 78.0 31.3 77.6"/>
<path d="M39.9 81.9 C42.8 85.9 51.8 99.5 57.1 106.2 C62.4 112.9 69.0 119.3 71.4 122.0"/>
<path d="M62.8 90.4 C64.7 93.6 71.7 104.3 74.3 109.1 C76.9 113.8 77.9 117.4 78.6 119.1"/>
<path d="M70.0 74.0 C71.7 75.0 76.9 77.4 80.0 80.4 C83.1 83.4 87.2 90.0 88.6 91.9"/>
<path d="M31.3 86.2 L38.5 81.9 L47.1 84.7 L57.1 131.1 M32.7 87.6 L42.8 131.1 M39.9 84.7 L55.7 131.1 M27.0 114.8 L35.6 131.1"/>
<path d="M155.9 1.6 L135.9 33.1 M178.9 1.6 L187.5 38.9 M201.8 1.6 L206.8 21.7 M177.4 41.7 L206.8 47.5 M161.7 43.2 L177.4 39.6 L186.0 38.9"/>
<path d="M154.5 3.1 L168.8 5.9 L164.5 18.8 L148.8 18.8 Z"/>
<path d="M148.8 19.5 C150.2 18.9 154.5 15.6 157.4 16.0 C160.2 16.3 165.3 19.8 166.0 21.7 C166.7 23.6 161.9 25.0 161.7 27.4 C161.4 29.8 165.3 34.6 164.5 36.0 C163.8 37.4 160.7 37.6 157.4 36.0 C154.0 34.5 146.6 28.3 144.5 26.7"/>
<path d="M177.4 41.7 C177.0 43.2 174.6 47.7 174.6 50.3 C174.6 53.0 177.0 56.3 177.4 57.5"/>
<path d="M84.2 112.8 C84.4 110.5 84.5 102.5 85.4 99.1 C86.4 95.7 83.8 96.3 89.8 92.2 C95.8 88.2 114.2 78.3 121.5 74.8 C128.9 71.3 131.9 71.7 134.0 71.1"/>
<path d="M133.0 70.4 C139.5 70.4 159.4 69.2 171.7 70.4 C184.0 71.6 201.0 76.4 206.8 77.6"/>
<path d="M97.2 95.4 L134.0 73.6 L139.6 84.8 L106.6 104.7 Z"/>
<path d="M139.6 84.8 L180.7 81.0 L226.8 102.2"/>
<path d="M106.6 104.7 L155.2 139.6 L160.8 137.5"/>
<path d="M86.0 105.3 L172.0 161.1"/>
<path d="M84.2 112.8 L175.1 163.4"/>
<path d="M77.2 117.7 L84.8 112.2"/>
<path d="M206.8 48.9 L232.6 58.2 L302.8 86.2 L350.1 104.8 L354.4 114.8 L355.8 131.1"/>
<path d="M206.8 57.5 L331.4 105.5 L340.0 109.1 L342.9 114.8"/>
<path d="M206.8 77.6 L249.8 91.9 L307.1 114.8 L330.0 124.8 L332.9 131.1"/>
<path d="M206.8 91.9 L235.5 103.3 L281.3 117.7"/>
<path d="M348.6 104.8 L410.2 110.5 M302.8 86.2 L339.3 86.2 L374.4 86.9 L411.7 100.5 M218.3 1.6 L225.4 28.9 L232.6 57.5 M248.3 1.6 L235.5 11.7 L225.4 20.3 M334.3 126.3 L351.5 119.1"/>
<path d="M295.6 1.6 C296.6 8.6 299.9 29.1 301.3 43.2 C302.8 57.3 303.7 79.0 304.2 86.2"/>
<path d="M324.3 1.6 C324.4 8.6 325.5 31.5 325.0 43.2 C324.5 54.9 322.5 64.7 321.4 71.8 C320.3 79.0 319.0 83.8 318.5 86.2"/>
<path d="M321.4 73.3 L327.1 72.5 L335.7 78.3 L330.0 81.9 L320.0 83.3"/>
<path d="M325.7 3.1 L411.7 26.0 M325.7 8.1 L411.7 33.9 M325.7 48.9 L364.4 69.0 L411.7 99.0 M351.5 62.5 L378.7 76.1 L411.7 96.2"/>
<path d="M411.7 26.0 C411.2 28.9 408.8 37.9 408.8 43.2 C408.8 48.4 411.2 55.1 411.7 57.5"/>
<path d="M278.4 116.2 L284.2 122.0 L292.8 131.1"/>
<path d="M1.9 200.4 C4.7 199.1 11.6 193.5 18.4 192.5 C25.2 191.6 33.9 193.1 42.8 194.7 C51.6 196.2 63.1 199.2 71.4 201.8 C79.8 204.5 85.8 206.6 92.9 210.4 C100.1 214.2 107.2 219.0 114.4 224.7 C121.6 230.5 129.7 239.0 135.9 244.8 C142.1 250.7 149.0 257.3 151.6 259.8"/>
<path d="M1.9 200.4 C3.0 202.5 4.0 209.2 8.4 213.3 C12.8 217.3 17.9 220.4 28.5 224.7 C39.0 229.0 57.1 234.3 71.4 239.1 C85.8 243.8 103.4 249.9 114.4 253.4 C125.4 256.9 133.5 258.8 137.3 259.8"/>
<path d="M27.0 130.2 C27.3 132.6 27.5 138.6 28.5 144.5 C29.4 150.5 31.6 158.1 32.7 166.0 C33.9 173.9 35.1 187.5 35.6 191.8"/>
<path d="M34.2 130.2 C35.6 135.0 40.4 152.2 42.8 158.9 C45.2 165.5 46.1 163.9 48.5 170.3 C50.9 176.8 55.7 193.0 57.1 197.5"/>
<path d="M44.2 130.2 L54.2 173.2 L67.1 200.4 M52.8 130.2 L65.7 153.1 M60.0 130.2 L68.6 151.7 M37.0 181.8 L35.6 191.8 M41.3 186.1 L41.3 191.8 M27.0 141.7 L32.7 180.3 L18.4 192.5"/>
<path d="M58.5 160.3 L60.0 156.0 L68.6 151.7 L74.3 157.4 L75.7 163.9 L67.1 167.4 L61.4 168.9 Z"/>
<path d="M61.4 168.9 L59.2 161.7 L62.8 161.0 L67.1 166.0"/>
<path d="M35.6 176.0 L48.5 170.3 L53.5 178.9 L52.8 181.1 L42.8 183.2 L38.5 181.8 Z"/>
<path d="M68.6 151.7 C69.0 154.1 70.0 160.0 71.4 166.0 C72.9 172.0 75.7 183.4 77.2 187.5 C78.6 191.6 76.2 188.5 80.0 190.4 C83.8 192.3 93.2 195.9 100.1 199.0 C107.0 202.1 116.3 207.1 121.6 209.0 C126.8 210.9 129.0 210.9 131.6 210.4 C134.2 209.9 134.9 209.2 137.3 206.1 C139.7 203.0 143.1 196.6 145.9 191.8 C148.8 187.0 151.4 181.3 154.5 177.5 C157.6 173.7 161.0 171.3 164.5 168.9 C168.1 166.5 169.0 165.8 176.0 163.1 C183.0 160.5 201.7 154.8 206.8 153.1"/>
<path d="M77.9 188.2 C81.6 190.2 92.6 196.3 100.1 200.4 C107.6 204.5 117.7 210.3 123.0 212.6 C128.2 214.8 130.2 213.8 131.6 214.0"/>
<path d="M75.7 201.8 L82.9 197.5 L88.6 201.8 L91.5 206.1 M92.9 199.0 L93.6 207.6"/>
<path d="M161.7 174.6 C164.1 176.8 171.9 183.2 176.0 187.5 C180.1 191.8 183.6 196.1 186.0 200.4 C188.4 204.7 190.3 209.2 190.3 213.3 C190.3 217.3 188.7 221.4 186.0 224.7 C183.4 228.1 178.9 231.6 174.6 233.3 C170.3 235.1 165.0 236.2 160.2 235.5 C155.5 234.8 150.0 231.8 145.9 229.0 C141.9 226.3 138.2 222.5 135.9 219.0 C133.6 215.6 132.9 210.1 132.3 208.3"/>
<path d="M158.8 235.5 C158.5 237.0 157.1 240.7 156.7 244.8 C156.2 248.9 156.1 257.3 155.9 259.8"/>
<path d="M160.2 235.5 C164.5 234.7 178.3 232.5 186.0 230.5 C193.8 228.4 203.3 224.5 206.8 223.3"/>
<path d="M190.3 219.0 L206.8 213.3 M80.0 130.2 L117.3 153.1"/>
<path d="M134.5 162.4 C136.6 162.9 143.1 165.1 147.4 165.3 C151.6 165.5 158.1 164.1 160.2 163.9"/>
<path d="M228.3 237.6 C224.7 234.5 227.1 224.5 228.3 216.2 C229.5 207.8 231.9 195.9 235.5 187.5 C239.0 179.1 243.8 171.5 249.8 166.0 C255.7 160.5 264.1 157.4 271.3 154.6 C278.4 151.7 287.3 149.3 292.8 148.8 C298.2 148.3 301.3 149.3 304.2 151.7 C307.1 154.1 308.7 158.4 309.9 163.1 C311.1 167.9 311.9 174.4 311.4 180.3 C310.9 186.3 310.2 193.5 307.1 199.0 C304.0 204.5 298.7 209.0 292.8 213.3 C286.8 217.6 278.4 221.2 271.3 224.7 C264.1 228.3 256.9 232.6 249.8 234.8 C242.6 236.9 231.9 240.7 228.3 237.6 Z"/>
<path d="M225.4 206.1 C226.9 202.5 230.2 191.7 234.0 184.6 C237.8 177.6 242.4 169.4 248.3 163.9 C254.3 158.4 262.4 154.6 269.8 151.7 C277.2 148.8 287.7 147.3 292.8 146.7 C297.8 146.1 298.7 147.9 299.9 148.1"/>
<path d="M212.5 223.3 C214.0 225.0 218.3 230.7 221.1 233.3 C224.0 236.0 224.5 238.6 229.7 239.1 C235.0 239.5 248.8 236.7 252.6 236.2"/>
<path d="M206.8 146.0 L256.9 130.2 M206.8 151.7 L267.0 133.1 M206.8 217.6 L225.4 206.1 M206.8 224.7 L212.5 221.9"/>
<path d="M295.6 130.2 C296.6 132.6 299.0 139.0 301.3 144.5 C303.7 150.0 306.6 158.9 309.9 163.1 C313.3 167.4 317.6 168.6 321.4 170.3 C325.2 172.0 329.0 173.7 332.9 173.2 C336.7 172.7 341.0 170.3 344.3 167.4 C347.7 164.6 351.0 162.2 352.9 156.0 C354.8 149.8 355.3 134.5 355.8 130.2"/>
<path d="M332.9 130.2 L330.0 173.2 L328.6 194.7 M299.9 133.1 L331.4 143.1 L355.8 133.1"/>
<path d="M311.4 184.6 L317.1 183.9 L315.7 196.8 L321.4 196.1 L322.8 184.6 L330.0 179.6"/>
<path d="M331.4 179.6 L340.0 207.6 L342.9 211.9 L413.8 171.7"/>
<path d="M331.4 179.6 C333.6 180.5 340.0 183.7 344.3 184.6 C348.6 185.6 345.6 191.1 357.2 185.4 C368.8 179.6 404.4 156.1 413.8 150.3"/>
<path d="M358.6 204.7 L374.4 212.6 L348.6 233.3"/>
<path d="M395.9 183.2 C397.8 185.8 405.0 194.4 407.4 199.0 C409.7 203.5 415.0 204.2 410.2 210.4 C405.4 216.6 388.0 231.0 378.7 236.2 C369.4 241.5 360.1 242.4 354.4 241.9 C348.6 241.5 346.7 236.7 344.3 233.3 C341.9 230.0 340.7 223.8 340.0 221.9"/>
<path d="M391.6 186.1 C393.5 188.5 400.9 196.6 403.1 200.4 C405.2 204.2 408.8 203.7 404.5 209.0 C400.2 214.2 385.4 227.1 377.3 231.9 C369.2 236.7 360.3 237.9 355.8 237.6 C351.2 237.4 352.2 233.3 350.1 230.5 C347.9 227.6 344.1 222.1 342.9 220.4"/>
<path d="M405.9 178.9 L413.8 184.6 M378.7 194.7 L387.3 190.4 L388.7 194.7"/>
<path d="M206.8 256.3 L235.5 243.4 L278.4 221.9 L292.8 213.3 M267.0 259.8 L307.1 221.9 L315.7 214.7 M264.1 261.1 L299.9 230.5 M292.8 240.5 L292.8 259.8 M281.3 249.1 L287.0 259.8 M298.5 241.9 L327.1 259.8 M309.9 244.8 L361.5 207.6 M308.5 244.8 L324.3 254.8 L330.0 249.1 L330.0 236.2 M335.7 230.5 L335.7 244.8 L328.6 249.1 M328.6 204.7 L338.6 208.3 L335.7 221.9 L321.4 239.1 M327.1 204.7 L330.0 219.0 L315.7 239.1 M292.8 213.3 L314.2 214.7 L325.7 204.7"/>
<path d="M175.6 163.4 L280.7 119.1 L281.9 116.9 L273.0 111.3 L265.8 109.1"/>
<path d="M175.6 163.4 L174.4 160.1 L279.6 116.9"/>
<path d="M198.8 89.2 L228.7 103.6 M247.5 89.2 L296.8 106.9 M170.0 164.5 L158.9 173.4 L147.9 190.2 M161.2 174.5 L178.9 190.2"/>
<path d="M136.8 162.3 C138.6 162.6 143.8 164.5 147.9 164.5 C151.9 164.5 158.9 162.6 161.2 162.3"/>
<path d="M281.9 119.1 C283.5 120.2 289.3 123.3 291.8 125.7 C294.3 128.1 296.0 132.2 296.8 133.5"/>
<path d="M234.2 190.2 C235.5 187.7 237.9 180.4 242.0 175.6 C246.1 170.7 252.1 165.2 258.6 161.2 C265.1 157.1 274.4 153.4 280.7 151.2 C287.1 149.0 294.1 148.4 296.8 147.9"/>
<path d="M239.8 190.2 C241.1 187.9 243.5 181.1 247.5 176.7 C251.6 172.2 258.0 167.1 264.1 163.4 C270.2 159.7 278.6 156.5 284.1 154.5 C289.5 152.6 294.7 152.2 296.8 151.8"/>
<path d="M160.1 144.6 C160.1 142.0 161.2 138.3 163.4 135.7 C165.6 133.1 169.5 130.4 173.3 129.1 C177.2 127.7 182.8 127.1 186.6 127.4 C190.5 127.7 194.4 129.0 196.6 130.7 C198.8 132.5 199.9 135.4 199.9 137.9 C199.9 140.4 198.8 143.5 196.6 145.7 C194.4 147.9 190.5 149.9 186.6 151.2 C182.8 152.5 177.2 153.4 173.3 153.4 C169.5 153.4 165.6 152.7 163.4 151.2 C161.2 149.7 160.1 147.1 160.1 144.6 Z"/>
<path d="M162.3 144.0 C162.4 141.8 163.6 138.5 165.6 136.3 C167.6 134.0 170.9 131.9 174.4 130.7 C178.0 129.6 183.2 129.0 186.6 129.3 C190.0 129.6 193.1 130.9 194.9 132.4 C196.8 133.8 197.8 135.9 197.7 137.9 C197.6 139.9 196.4 142.6 194.4 144.6 C192.3 146.5 189.0 148.4 185.5 149.5 C182.0 150.7 176.8 151.4 173.3 151.4 C169.9 151.4 166.9 150.8 165.0 149.5 C163.2 148.3 162.2 146.2 162.3 144.0 Z"/>
<path d="M166.1 149.5 C167.2 148.7 169.7 145.7 172.2 144.6 C174.7 143.5 178.1 142.9 181.1 142.9 C184.0 142.9 187.9 143.8 189.9 144.6 C192.0 145.3 192.7 146.9 193.3 147.3"/>
<path d="M228.7 111.3 C229.1 109.9 230.4 107.2 233.1 105.8 C235.9 104.4 241.1 103.2 245.3 103.0 C249.6 102.9 255.2 103.5 258.6 104.7 C262.0 105.9 264.9 108.6 265.8 110.2 C266.7 111.9 266.3 113.4 264.1 114.7 C262.0 116.0 257.1 117.5 253.1 118.0 C249.0 118.5 243.5 118.0 239.8 117.4 C236.1 116.9 232.8 115.7 230.9 114.7 C229.1 113.7 228.3 112.8 228.7 111.3 Z"/>
<path d="M230.9 111.9 C231.3 110.7 232.9 108.3 235.3 107.1 C237.8 106.0 242.2 105.1 245.9 104.9 C249.6 104.8 254.6 105.4 257.5 106.4 C260.4 107.3 262.4 109.5 263.0 110.8 C263.7 112.1 263.2 113.2 261.4 114.1 C259.5 115.0 255.5 116.1 252.0 116.3 C248.4 116.6 243.5 116.1 240.3 115.8 C237.2 115.4 234.5 114.8 232.9 114.1 C231.3 113.5 230.5 113.1 230.9 111.9 Z"/>
<path d="M198.8 129.1 L207.7 122.4 L225.4 114.7 L228.7 114.1 L234.2 117.4 L243.1 119.6 L247.0 120.8 L242.0 124.6 L225.4 131.3 L206.6 137.9 L203.8 135.7 L202.1 132.4 Z" fill="#fff" stroke="#231f20" stroke-width="1.8"/>
<path d="M85.0 68.2 L87.9 58.2 L95.8 48.2 L106.5 43.2 L116.1 42.9 L110.8 49.6 L106.5 58.9 L105.1 62.5 Z" fill="#ec008c" stroke="none"/>
<path d="M114.4 39.6 L124.4 35.3 L135.9 34.3 L147.4 37.4 L157.4 43.2 L168.8 53.2 L183.2 50.3 L171.7 70.4 L140.9 64.7 L151.6 61.1 L143.1 53.2 L133.0 46.0 L123.0 42.5 L116.1 42.9 Z" fill="#b0006c" stroke="none"/>
<line x1="218.3" y1="31.0" x2="218.3" y2="125.1" stroke="#ec008c" stroke-width="2.2" stroke-linecap="butt"/>
<circle cx="218.0" cy="31.0" r="13.9" fill="#ec008c" stroke="none"/><text x="218.0" y="37.2" text-anchor="middle" font-family="Liberation Sans, sans-serif" font-weight="bold" font-size="17.5" fill="#fff" stroke="#fff" stroke-width="0.5">A</text></g><rect x="0.7" y="0.7" width="411.6" height="259.9" fill="none" stroke="#333335" stroke-width="1.4"/></svg>
<div class="code" style="left:1242.6px;top:656.88px">F0B0021b</div>
<div style="position:absolute;font-family:'Liberation Sans';font-size:23.0px;line-height:40px;height:40px;white-space:nowrap;color:#231f20;-webkit-text-stroke:0.55px #231f20;transform-origin:0 0;left:79.60px;top:944.25px;transform:scale(0.8414,0.9588);">fig.</div>
<div style="position:absolute;font-family:'Liberation Sans';font-size:23.0px;line-height:40px;height:40px;white-space:nowrap;color:#231f20;-webkit-text-stroke:0.55px #231f20;transform-origin:0 0;left:112.66px;top:944.25px;transform:scale(0.7375,0.9588);">31</div>
<div style="position:absolute;font-family:'Liberation Sans';font-size:23.0px;line-height:40px;height:40px;white-space:nowrap;color:#231f20;-webkit-text-stroke:0.55px #231f20;transform-origin:0 0;left:516.40px;top:631.25px;transform:scale(0.8414,0.9588);">fig.</div>
<div style="position:absolute;font-family:'Liberation Sans';font-size:23.0px;line-height:40px;height:40px;white-space:nowrap;color:#231f20;-webkit-text-stroke:0.55px #231f20;transform-origin:0 0;left:549.33px;top:631.25px;transform:scale(0.8750,0.9588);">32</div>
<div style="position:absolute;font-family:'Liberation Sans';font-size:23.0px;line-height:40px;height:40px;white-space:nowrap;color:#231f20;-webkit-text-stroke:0.55px #231f20;transform-origin:0 0;left:516.50px;top:944.25px;transform:scale(0.8414,0.9588);">fig.</div>
<div style="position:absolute;font-family:'Liberation Sans';font-size:23.0px;line-height:40px;height:40px;white-space:nowrap;color:#231f20;-webkit-text-stroke:0.55px #231f20;transform-origin:0 0;left:549.44px;top:944.25px;transform:scale(0.8583,0.9588);">33</div>
<div style="position:absolute;font-family:'Liberation Sans';font-size:23.0px;line-height:40px;height:40px;white-space:nowrap;color:#231f20;-webkit-text-stroke:0.55px #231f20;transform-origin:0 0;left:953.50px;top:944.25px;transform:scale(0.8414,0.9588);">fig.</div>
<div style="position:absolute;font-family:'Liberation Sans';font-size:23.0px;line-height:40px;height:40px;white-space:nowrap;color:#231f20;-webkit-text-stroke:0.55px #231f20;transform-origin:0 0;left:986.41px;top:944.25px;transform:scale(0.8917,0.9588);">34</div>
<svg class="abs" style="left:1377px;top:0" width="68" height="1025" viewBox="0 0 68 1025"><g transform="translate(41.98,435.50) rotate(-90) scale(1.0446,1.0235)"><text x="0" y="0" font-family="Liberation Sans, sans-serif" font-weight="bold" font-size="21.0" letter-spacing="1.3" fill="#231f20" stroke="#231f20" stroke-width="2.8" stroke-linejoin="miter" stroke-miterlimit="1.6">GETTING</text></g><g transform="translate(41.91,319.81) rotate(-90) scale(0.9906,1.0875)"><text x="0" y="0" font-family="Liberation Sans, sans-serif" font-weight="bold" font-size="21.0" letter-spacing="1.3" fill="#231f20" stroke="#231f20" stroke-width="2.8" stroke-linejoin="miter" stroke-miterlimit="1.6">TO</text></g><g transform="translate(41.91,276.80) rotate(-90) scale(1.1292,1.0875)"><text x="0" y="0" font-family="Liberation Sans, sans-serif" font-weight="bold" font-size="21.0" letter-spacing="1.3" fill="#231f20" stroke="#231f20" stroke-width="2.8" stroke-linejoin="miter" stroke-miterlimit="1.6">KNOW</text></g><g transform="translate(41.91,182.83) rotate(-90) scale(1.0742,1.0875)"><text x="0" y="0" font-family="Liberation Sans, sans-serif" font-weight="bold" font-size="21.0" letter-spacing="1.3" fill="#231f20" stroke="#231f20" stroke-width="2.8" stroke-linejoin="miter" stroke-miterlimit="1.6">YOUR</text></g><g transform="translate(41.91,102.40) rotate(-90) scale(0.9735,1.0875)"><text x="0" y="0" font-family="Liberation Sans, sans-serif" font-weight="bold" font-size="21.0" letter-spacing="1.3" fill="#231f20" stroke="#231f20" stroke-width="2.8" stroke-linejoin="miter" stroke-miterlimit="1.6">CAR</text></g><g transform="translate(14.00,966.90) scale(0.8824,1.1000)"><text x="0" y="0" font-family="Liberation Sans, sans-serif" font-weight="bold" font-size="29.0" letter-spacing="1.0" fill="#231f20" stroke="#231f20" stroke-width="3.0" stroke-linejoin="miter" stroke-miterlimit="1.6">27</text></g></svg>
</div>
</body></html>
